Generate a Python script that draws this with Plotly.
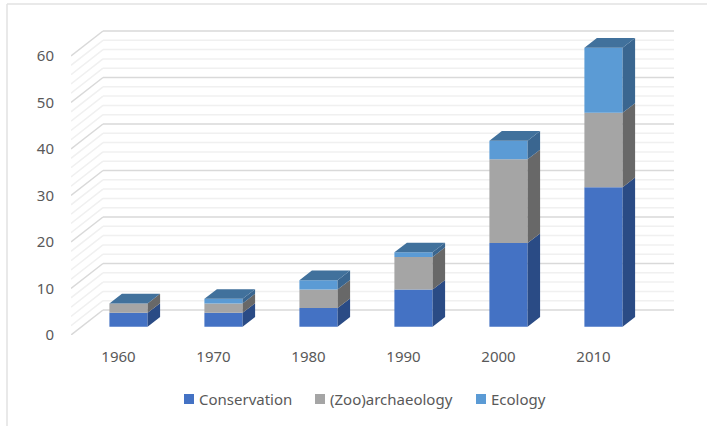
import plotly.graph_objects as go

categories = ["1960", "1970", "1980", "1990", "2000", "2010"]
conservation = [3, 3, 4, 8, 18, 30]
archaeology = [2, 2, 4, 7, 18, 16]
ecology = [0, 1, 2, 1, 4, 14]
y_ticks = [0, 10, 20, 30, 40, 50, 60]

W, H = 707, 426
PX_LEFT, PX_RIGHT, PX_TOP, PX_BOTTOM = 71, 690, 20, 335
STEP_PX = 95.0
UNIT_PX = 4.65
x_min = -0.5
x_max = x_min + (PX_RIGHT - PX_LEFT) / STEP_PX
y_min = 0.0
y_max = (PX_BOTTOM - PX_TOP) / UNIT_PX

WALL_DX, WALL_DY = 32 / STEP_PX, 25 / UNIT_PX
WALL_RIGHT = x_min + (674 - PX_LEFT) / STEP_PX
BAR_DX, BAR_DY = 10 / STEP_PX, 8.3 / UNIT_PX
DEPTH_DX, DEPTH_DY = 12.5 / STEP_PX, 9.6 / UNIT_PX
BAR_W = 38.2 / STEP_PX

FRONT = ["#4472C4", "#A5A5A5", "#5B9BD5"]
SIDE = ["#2A4B85", "#686868", "#3A6690"]
TOP_COLOR = "#41719C"
TEXT = "#595959"
FONT = "Noto Sans"


def px_x(p):
    return (p - PX_LEFT) / (PX_RIGHT - PX_LEFT)


def px_y(p):
    return (PX_BOTTOM - p) / (PX_BOTTOM - PX_TOP)


series = [("Conservation", conservation), ("(Zoo)archaeology", archaeology), ("Ecology", ecology)]

fig = go.Figure()

# stacked front faces
cum = [0.0] * len(categories)
stack = []
for k, (name, vals) in enumerate(series):
    bases = list(cum)
    tops = [b + v for b, v in zip(bases, vals)]
    stack.append((bases, tops))
    fig.add_trace(go.Bar(
        x=[i + BAR_DX for i in range(len(categories))],
        y=vals, base=[b + BAR_DY for b in bases], width=BAR_W, name=name,
        marker=dict(color=FRONT[k], line=dict(width=0)), hoverinfo="name+y",
        showlegend=False,
    ))
    cum = tops

# side faces
for k, (bases, tops) in enumerate(stack):
    xs, ys = [], []
    for i, (b, t) in enumerate(zip(bases, tops)):
        if t == b:
            continue
        r = i + BAR_DX + BAR_W / 2
        xs += [r, r + DEPTH_DX, r + DEPTH_DX, r, r, None]
        ys += [b + BAR_DY, b + BAR_DY + DEPTH_DY, t + BAR_DY + DEPTH_DY, t + BAR_DY, b + BAR_DY, None]
    fig.add_trace(go.Scatter(x=xs, y=ys, mode="lines", fill="toself", fillcolor=SIDE[k],
                             line=dict(width=0), showlegend=False, hoverinfo="skip"))

# top faces
xs, ys = [], []
for i, total in enumerate(cum):
    l = i + BAR_DX - BAR_W / 2
    r = i + BAR_DX + BAR_W / 2
    t = total + BAR_DY
    xs += [l, r, r + DEPTH_DX, l + DEPTH_DX, l, None]
    ys += [t, t, t + DEPTH_DY, t + DEPTH_DY, t, None]
fig.add_trace(go.Scatter(x=xs, y=ys, mode="lines", fill="toself", fillcolor=TOP_COLOR,
                         line=dict(width=0), showlegend=False, hoverinfo="skip"))

# wall and floor grid
shapes = []
for v in range(0, 61, 2):
    major = v % 10 == 0
    color = "#D9D9D9" if major else "#F0F0F0"
    shapes.append(dict(type="line", xref="x", yref="y", layer="below",
                       x0=x_min, y0=v, x1=x_min + WALL_DX, y1=v + WALL_DY,
                       line=dict(color=color, width=1.5)))
    shapes.append(dict(type="line", xref="x", yref="y", layer="below",
                       x0=x_min + WALL_DX, y0=v + WALL_DY, x1=WALL_RIGHT, y1=v + WALL_DY,
                       line=dict(color=color, width=1.5)))

# chart frame: top and left edges only
for x0, y0, x1, y1 in [(7, 4, 707, 4), (7, 4, 7, 426)]:
    shapes.append(dict(type="line", xref="paper", yref="paper", layer="below",
                       x0=px_x(x0), y0=px_y(y0), x1=px_x(x1), y1=px_y(y1),
                       line=dict(color="#E2E2E2", width=1.5)))

# legend
annotations = []
LEGEND_Y = 399
legend_px = [184, 315, 476]
for k, (name, _) in enumerate(series):
    x0 = legend_px[k]
    shapes.append(dict(type="rect", xref="paper", yref="paper", layer="above",
                       x0=px_x(x0), x1=px_x(x0 + 10), y0=px_y(LEGEND_Y - 5), y1=px_y(LEGEND_Y + 5),
                       fillcolor=FRONT[k], line=dict(width=0)))
    annotations.append(dict(text=name, xref="paper", yref="paper", x=px_x(x0 + 14), y=px_y(LEGEND_Y),
                            xanchor="left", yanchor="middle", showarrow=False, xshift=-1,
                            font=dict(family=FONT, size=15, color=TEXT)))

fig.update_layout(
    width=W, height=H, autosize=False,
    margin=dict(l=PX_LEFT, r=W - PX_RIGHT, t=PX_TOP, b=H - PX_BOTTOM, autoexpand=False),
    paper_bgcolor="white", plot_bgcolor="white",
    barmode="overlay", shapes=shapes, annotations=annotations,
    font=dict(family=FONT, size=15, color=TEXT),
    xaxis=dict(range=[x_min, x_max], tickmode="array", tickvals=list(range(len(categories))),
               ticktext=categories, showgrid=False, zeroline=False, showline=False,
               ticks="outside", ticklen=8, tickcolor="rgba(0,0,0,0)", fixedrange=True),
    yaxis=dict(range=[y_min, y_max], tickmode="array", tickvals=y_ticks, showgrid=False,
               zeroline=False, showline=False, ticks="outside", ticklen=13,
               tickcolor="rgba(0,0,0,0)", fixedrange=True),
    showlegend=False,
)

fig.write_html("out.html", config={"displayModeBar": False},
               post_script="document.body.style.margin='0';document.documentElement.style.overflow='hidden';")
